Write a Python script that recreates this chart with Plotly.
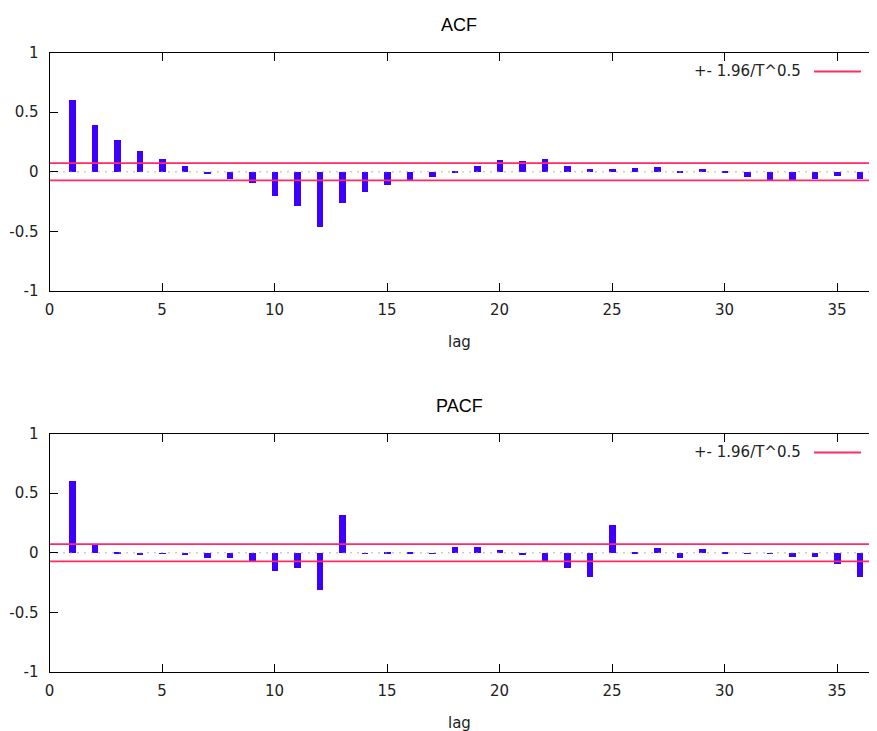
import plotly.graph_objects as go

# ---------------- data ----------------
lags = list(range(1, 37))

acf_values = [0.61, 0.40, 0.27, 0.18, 0.11, 0.056, -0.008, -0.056, -0.092, -0.20,
              -0.28, -0.457, -0.258, -0.162, -0.106, -0.062, -0.042, 0.005, 0.056, 0.10,
              0.098, 0.112, 0.056, 0.028, 0.031, 0.039, 0.042, 0.01, 0.03, 0.003,
              -0.04, -0.062, -0.062, -0.053, -0.03, -0.059]

pacf_values = [0.61, 0.072, 0.003, -0.008, 0.002, -0.017, -0.042, -0.039, -0.064, -0.15,
               -0.12, -0.308, 0.317, -0.005, 0.006, 0.01, -0.006, 0.053, 0.05, 0.028,
               -0.017, -0.064, -0.12, -0.20, 0.239, 0.008, 0.042, -0.042, 0.039, 0.006,
               0.002, -0.002, -0.03, -0.03, -0.086, -0.20]

conf_band = 0.073          # +- 1.96/T^0.5
legend_label = "+- 1.96/T^0.5"
titles = ["ACF", "PACF"]
x_label = "lag"
x_ticks = [0, 5, 10, 15, 20, 25, 30, 35]
y_ticks = [-1, -0.5, 0, 0.5, 1]
y_tick_text = ["-1", "-0.5", "0", "0.5", "1"]

# ---------------- style ----------------
W, H = 877, 731
OFF = 8                      # page body margin offset
BAR_COLOR = "#3d00ff"
RED = "#ff2a66"
TICK_FONT = dict(family="DejaVu Sans", size=15, color="#222")
TITLE_FONT = dict(family="Liberation Sans, Arial", size=18, color="black")

x0_px = 49.5 - OFF
PX_PER_LAG = 22.5
X_MAX = (W - x0_px) / PX_PER_LAG
panels = [  # (top px, bottom px) in figure coords
    (52.5 - OFF, 291.0 - OFF),
    (433.5 - OFF, 672.0 - OFF),
]

fig = go.Figure()

for i, (vals, (top, bot)) in enumerate(zip([acf_values, pacf_values], panels)):
    n = "" if i == 0 else str(i + 1)
    xa, ya = "x" + n, "y" + n
    # zero dotted line
    fig.add_trace(go.Scatter(x=[0, X_MAX], y=[0, 0], mode="lines", xaxis=xa, yaxis=ya,
                             line=dict(color="#9a9a9a", width=1.5, dash="1px,6px"),
                             showlegend=False, hoverinfo="skip"))
    fig.add_trace(go.Bar(x=lags, y=vals, width=0.31, xaxis=xa, yaxis=ya,
                         marker=dict(color=BAR_COLOR, line=dict(width=0)),
                         showlegend=False))
    for c in (conf_band, -conf_band):
        fig.add_trace(go.Scatter(x=[0, X_MAX], y=[c, c], mode="lines", xaxis=xa, yaxis=ya,
                                 line=dict(color=RED, width=1.8),
                                 showlegend=False, hoverinfo="skip"))

    ydom = [1 - bot / H, 1 - top / H]
    axis_common = dict(showline=True, linecolor="black", linewidth=1,
                       ticks="inside", ticklen=8, tickcolor="black", tickwidth=1,
                       showgrid=False, zeroline=False, tickfont=TICK_FONT,
                       automargin=False)
    fig.layout["xaxis" + n] = dict(domain=[x0_px / W, 1], range=[0, X_MAX], anchor=ya,
                                   tickvals=x_ticks, mirror="ticks",
                                   ticklabelstandoff=5, **axis_common)
    fig.layout["yaxis" + n] = dict(domain=ydom, range=[-1, 1], anchor=xa,
                                   tickvals=y_ticks, ticktext=y_tick_text,
                                   ticklabelstandoff=7, **axis_common)

    # titles and x labels
    cx = (x0_px + W - 2 * OFF) / 2 / W
    fig.add_annotation(text=titles[i], x=cx, y=1 - (top - 28) / H, xref="paper", yref="paper",
                       showarrow=False, font=TITLE_FONT, xanchor="center", yanchor="middle")
    fig.add_annotation(text=x_label, x=cx, y=1 - (bot + 51) / H, xref="paper", yref="paper",
                       showarrow=False, font=TICK_FONT, xanchor="center", yanchor="middle")
    # legend text + sample
    ly = 1 - (top + 19) / H
    fig.add_annotation(text=legend_label, x=(803 - OFF) / W, y=ly, xref="paper", yref="paper",
                       showarrow=False, font=TICK_FONT, xanchor="right", yanchor="middle")
    fig.add_shape(type="line", x0=(814 - OFF) / W, x1=(861 - OFF) / W, y0=ly, y1=ly,
                  xref="paper", yref="paper", line=dict(color=RED, width=1.8))

fig.update_layout(width=W, height=H, margin=dict(l=0, r=0, t=0, b=0),
                  plot_bgcolor="white", paper_bgcolor="white", bargap=0,
                  showlegend=False)

fig.write_html("out.html")
